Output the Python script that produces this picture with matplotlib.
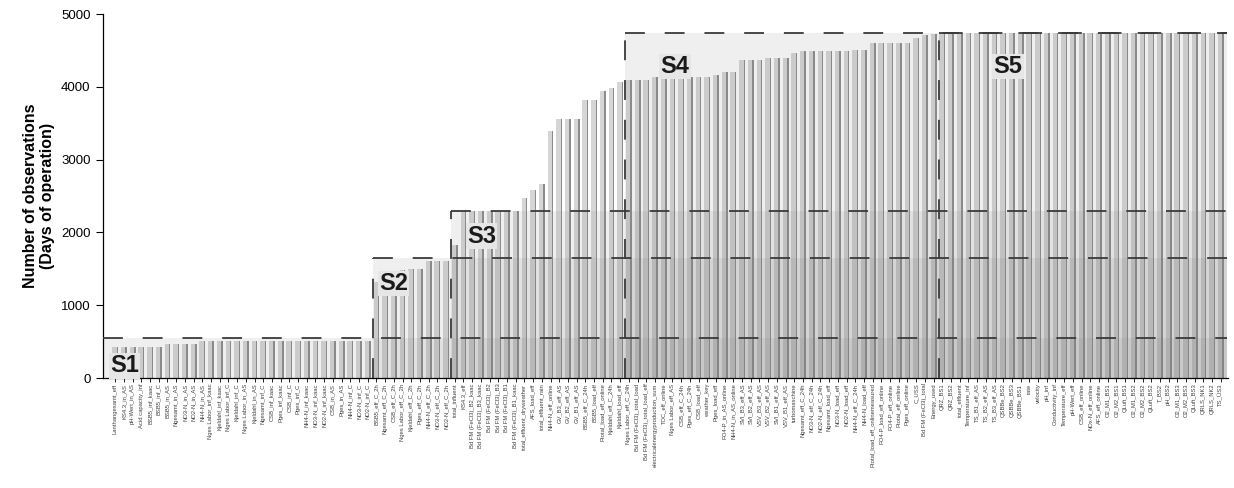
import numpy as np
import matplotlib.pyplot as plt
from matplotlib.patches import Rectangle

plt.rcParams['font.family'] = ['Liberation Sans', 'DejaVu Sans']

# ---- data ----
labels_s1 = ["Lanthangesamt_eff", "KS4.3_in_AS", "pH-Wert_in_AS", "Acid capacity_inf",
             "BSB5_inf_kaac", "BSB5_inf_C", "BSB5_in_AS", "Ngesamt_in_AS", "NO3-N_in_AS",
             "NO2-N_in_AS", "NH4-N_in_AS", "Nges Labor_inf_kaac", "Kjeldahl_inf_kaac",
             "Nges Labor_inf_C", "Kjeldahl_inf_C", "Nges Labor_in_AS", "Kjeldahl_in_AS",
             "Ngesamt_inf_C", "CSB_inf_kaac", "Pges_inf_kaac", "CSB_inf_C", "Pges_inf_C",
             "NH4-N_inf_kaac", "NO3-N_inf_kaac", "NO2-N_inf_kaac", "CSB_in_AS", "Pges_in_AS",
             "NH4-N_inf_C", "NO3-N_inf_C", "NO2-N_inf_C"]
labels_s2 = ["BSB5_eff_C_2h", "Ngesamt_eff_C_2h", "CSB_eff_C_2h", "Nges Labor_eff_C_2h",
             "Kjeldahl_eff_C_2h", "Pges_eff_C_2h", "NH4-N_eff_C_2h", "NO3-N_eff_C_2h",
             "NO2-N_eff_C_2h"]
labels_s3 = ["total_influent", "KS4.3_eff", "Bd FM (FeCl3)_B2_kaac", "Bd FM (FeCl3)_B3_kaac",
             "Bd FM (FeCl3)_B2", "Bd FM (FeCl3)_B3", "Bd FM (FeCl3)_B1", "Bd FM (FeCl3)_B1_kaac",
             "total_effluent_dryweather", "AFS_load_eff", "total_effluent_rain",
             "NH4-N_eff_online", "GV_B3_eff_AS", "GV_B2_eff_AS", "GV_B1_eff_AS",
             "BSB5_eff_C_24h", "BSB5_load_eff", "Ptotal_load_eff_online",
             "Kjeldahl_eff_C_24h", "Kjeldahl_load_eff"]
labels_s4 = ["Nges Labor_eff_C_24h", "Bd FM (FeCl3)_total_load", "Bd FM (FeCl3)_total_load_eff",
             "electricalenergyproduction_sum", "TOC_eff_online", "Nges Labor_eff_AS",
             "CSB_eff_C_24h", "Pges_eff_C_24h", "CSB_load_eff", "weather_key", "Pges_load_eff",
             "PO4-P_in_AS_online", "NH4-N_in_AS_online", "SVI_B3_eff_AS", "SVI_B2_eff_AS",
             "VSV_B3_eff_AS", "VSV_B2_eff_AS", "SVI_B1_eff_AS", "VSV_B1_eff_AS", "turbomaschine",
             "Ngesamt_eff_C_24h", "NO3-N_eff_C_24h", "NO2-N_eff_C_24h", "Ngesamt_load_eff",
             "NO3-N_load_eff", "NO2-N_load_eff", "NH4-N_eff_C_24h", "NH4-N_load_eff",
             "Ptotal_load_eff_onlinemeasured", "PO4-P_load_eff_online", "PO4-P_eff_online",
             "Ptotal_eff_online", "Pges_eff_online", "C_USS", "Bd FM (FeCl3)_total",
             "Energy_used"]
labels_s5 = ["QRZ_BS1", "QRZ_BS2", "total_effluent", "Temperature_inf", "TS_B1_eff_AS",
             "TS_B2_eff_AS", "TS_B3_eff_AS", "QSBBe_BS2", "QSBBe_BS3", "QSBBe_BS1", "rate",
             "velocity", "pH_inf", "Conductivity_inf", "Temperature_eff", "pH-Wert_eff",
             "CSB_eff_online", "NOx-N_eff_online", "AFS_eff_online", "O2_M1_BS1", "O2_M2_BS1",
             "QLuft_BS1", "O2_M1_BS2", "O2_M2_BS2", "QLuft_BS2", "T_BS2", "pH_BS2",
             "O2_M1_BS3", "O2_M2_BS3", "QLuft_BS3", "QRLS_NK1", "QRLS_NK2", "TS_ÜS3"]

obs_s1 = [430, 430, 430, 430, 430, 430, 465, 465, 465, 465,
          508, 510, 508, 505, 505, 505, 508, 508, 505, 505,
          505, 505, 505, 505, 505, 505, 505, 505, 505, 505]
obs_s2 = [1320, 1320, 1320, 1490, 1500, 1500, 1605, 1605, 1610]
obs_s3 = [1830, 2300, 2300, 2300, 2300, 2300, 2300, 2300, 2470, 2580,
          2660, 3390, 3560, 3560, 3560, 3820, 3820, 3940, 3980, 4070]
obs_s4 = [4100, 4100, 4100, 4130, 4130, 4140, 4140, 4140, 4140, 4140,
          4160, 4200, 4200, 4370, 4370, 4370, 4390, 4390, 4390, 4460,
          4485, 4485, 4485, 4495, 4495, 4495, 4505, 4505, 4606, 4606,
          4606, 4606, 4606, 4665, 4710, 4725]
obs_s5 = [4735] * 33

stage_names = ["S1", "S2", "S3", "S4", "S5"]
stage_tops = [545, 1650, 2300, 4740, 4740]

labels = labels_s1 + labels_s2 + labels_s3 + labels_s4 + labels_s5
obs = obs_s1 + obs_s2 + obs_s3 + obs_s4 + obs_s5
sizes = [len(obs_s1), len(obs_s2), len(obs_s3), len(obs_s4), len(obs_s5)]
x = np.arange(len(obs))

fig = plt.figure(figsize=(12.34, 4.88), dpi=100)
ax = fig.add_axes([0.0835, 0.2254, 0.9115, 0.7459])
xmin, xmax = -1.4, len(obs) - 0.2
ax.set_xlim(xmin, xmax)
ax.set_ylim(0, 5000)

starts = (np.cumsum([0] + sizes[:-1]) - 0.4).astype(float)
starts[0] = xmin
right = len(obs) - 0.35

# bars: light body + darker right edge
ax.bar(x - 0.33, obs, width=0.5, align='edge', color='#d6d6d6', zorder=2)
ax.bar(x + 0.17, obs, width=0.17, align='edge', color='#8c8c8c', zorder=2)

# stage shading (S1..S4 stack up towards the bottom)
for k in range(4):
    ax.add_patch(Rectangle((starts[k], 0), right - starts[k], stage_tops[k],
                           facecolor='#808080', alpha=0.125, edgecolor='none', zorder=2.5))

# dashed stage outlines (top and left side)
dash = (0, (11, 11))
for k in range(5):
    ax.hlines(stage_tops[k], starts[k], right, colors='#3a3a3a', linewidth=1.3,
              linestyles=[dash], zorder=3)
    if k > 0:
        ax.vlines(starts[k], 0, stage_tops[k], colors='#3a3a3a', linewidth=1.3,
                  linestyles=[dash], zorder=3)

# stage names
name_pos = [(-0.6, 80), (30.3, 1210), (40.4, 1860), (62.6, 4190), (100.9, 4190)]
for name, (tx, ty) in zip(stage_names, name_pos):
    ax.text(tx, ty, name, fontsize=17, fontweight='bold', color='#1a1a1a',
            va='baseline', ha='left', zorder=4,
            bbox=dict(facecolor='#e6e6e6', edgecolor='none', pad=1))

ax.set_xticks(x)
ax.set_xticklabels(labels, rotation=90, fontsize=4.2, color='#404040')
ax.tick_params(axis='x', length=3, width=0.6, pad=1)
ax.set_yticks([0, 1000, 2000, 3000, 4000, 5000])
ax.tick_params(axis='y', length=5, width=0.8, labelsize=9.5, pad=4)

ax.spines['top'].set_visible(False)
ax.spines['right'].set_visible(False)
ax.spines['left'].set_linewidth(0.9)
ax.spines['bottom'].set_linewidth(0.9)

ax.set_ylabel("Number of observations\n(Days of operation)", fontsize=11.5,
              fontweight='bold', labelpad=4)

fig.savefig("out.png", dpi=100)
